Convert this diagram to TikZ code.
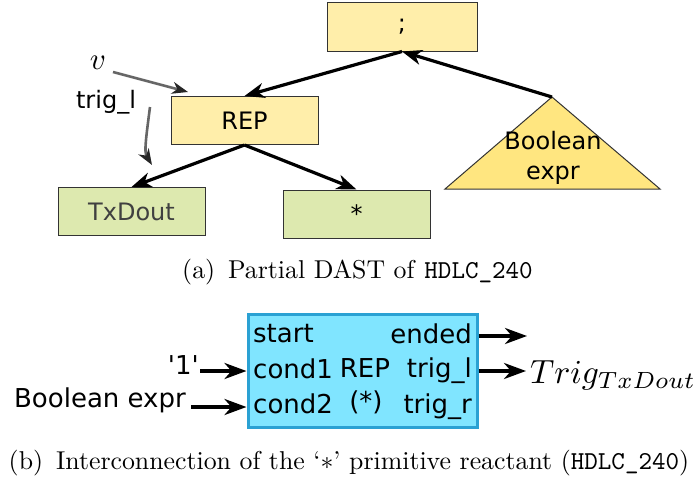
\documentclass[tikz,border=0pt]{standalone}
\usepackage{fontspec}
\newfontfamily\dvs{DejaVu Sans}
\usetikzlibrary{arrows.meta,calc}
\definecolor{yfill}{HTML}{FFEEAA}
\definecolor{tfill}{HTML}{FFE680}
\definecolor{gfill}{HTML}{DDE9AF}
\definecolor{bfill}{HTML}{80E5FF}
\definecolor{bdraw}{HTML}{2AA1D3}
\definecolor{gline}{HTML}{666666}
\tikzset{
  sans/.style={font=\dvs\fontsize{24}{28}\selectfont, inner sep=0pt},
  bsans/.style={font=\dvs\fontsize{26}{30}\selectfont, inner sep=0pt},
  ybox/.style={draw=black!80, line width=1pt, fill=yfill, minimum width=147pt, minimum height=48pt, sans},
  gbox/.style={ybox, fill=gfill},
  arr/.style={line width=3.2pt, -{Stealth[length=20pt,width=15pt,inset=6pt]}},
  garr/.style={line width=2.6pt, draw=gline, -{Stealth[length=16pt,width=12pt,inset=5pt,color=black!85]}},
  barr/.style={line width=3.6pt, -{Stealth[length=22pt,width=16pt,inset=7pt]}},
  captext/.style={inner sep=0pt, anchor=base},
  mth/.style={inner sep=0pt},
}
\begin{document}
\begin{tikzpicture}[x=1pt,y=-1pt]
\useasboundingbox (0,0) rectangle (697,479);
% part (a)
\node[ybox, minimum width=150pt, minimum height=49pt] (semi) at (402,26.5) {;};
\node[ybox] (rep) at (244.5,120.5) {REP};
\node[gbox, text=black!75] (txd) at (131.5,211.5) {TxDout};
\node[gbox] (star) at (356.5,214) {*};
\coordinate (apex) at (552,97);
\coordinate (bl) at (445,189);
\coordinate (br) at (660,189);
\filldraw[fill=tfill, draw=black!80, line width=1pt] (apex) -- (br) -- (bl) -- cycle;
\node[sans, align=center, font=\dvs\fontsize{24}{30}\selectfont] (bexpr) at (553,158) {Boolean\\expr};
\draw[arr] (semi.south) -- (rep.north);
\draw[arr] (apex) -- (semi.south);
\draw[arr] (rep.south) -- (txd.north);
\draw[arr] (rep.south) -- (star.north);
\node[mth, anchor=base] (v) at (98,69) {\scalebox{3.1}{$v$}};
\node[sans, anchor=base] (trigl) at (106,108) {trig\_l};
\coordinate (vs) at (113,72);
\coordinate (ve) at (188,92);
\draw[garr] (vs) -- (ve);
\coordinate (ts) at (150,107);
\coordinate (te) at (152,165);
\draw[garr] (ts) .. controls (146,138) and (144,152) .. (te);
\node[captext] (capa) at (357.5,278) {\scalebox{2.58}{(a)\enspace Partial DAST of \texttt{HDLC\_240}}};
% part (b)
\node[draw=bdraw, line width=3pt, fill=bfill, minimum width=229pt, minimum height=113pt, inner sep=0pt] (blue) at (362.5,370.5) {};
\node[bsans, anchor=base west] (start) at (253,342) {start};
\node[bsans, anchor=base west] (cond1) at (253,378) {cond1};
\node[bsans, anchor=base west] (cond2) at (253,413) {cond2};
\node[bsans, anchor=base east] (ended) at (472,343) {ended};
\node[bsans, anchor=base east] (trl) at (472,377) {trig\_l};
\node[bsans, anchor=base east] (trr) at (472,413) {trig\_r};
\node[bsans, anchor=base] (rep2) at (365,377) {REP};
\node[bsans, anchor=base] (rstar) at (366,410) {(*)};
\node[bsans, anchor=base east] (one) at (199,374) {'1'};
\node[bsans, anchor=base east] (bexp2) at (186,407) {Boolean expr};
\coordinate (a1) at (200,371);
\coordinate (a2) at (191,407);
\draw[barr] (a1) -- (a1 -| blue.west);
\draw[barr] (a2) -- (a2 -| blue.west);
\coordinate (e1) at (527,336);
\coordinate (e2) at (526,371);
\draw[barr] (e1 -| blue.east) -- (e1);
\draw[barr] (e2 -| blue.east) -- (e2);
\node[mth, anchor=base west] (trig) at (530,383) {\scalebox{3.35}{$Trig_{TxDout}$}};
\node[captext] (capb) at (349,469) {\scalebox{2.58}{(b)\enspace Interconnection of the `$*$' primitive reactant (\texttt{HDLC\_240})}};
\end{tikzpicture}
\end{document}
